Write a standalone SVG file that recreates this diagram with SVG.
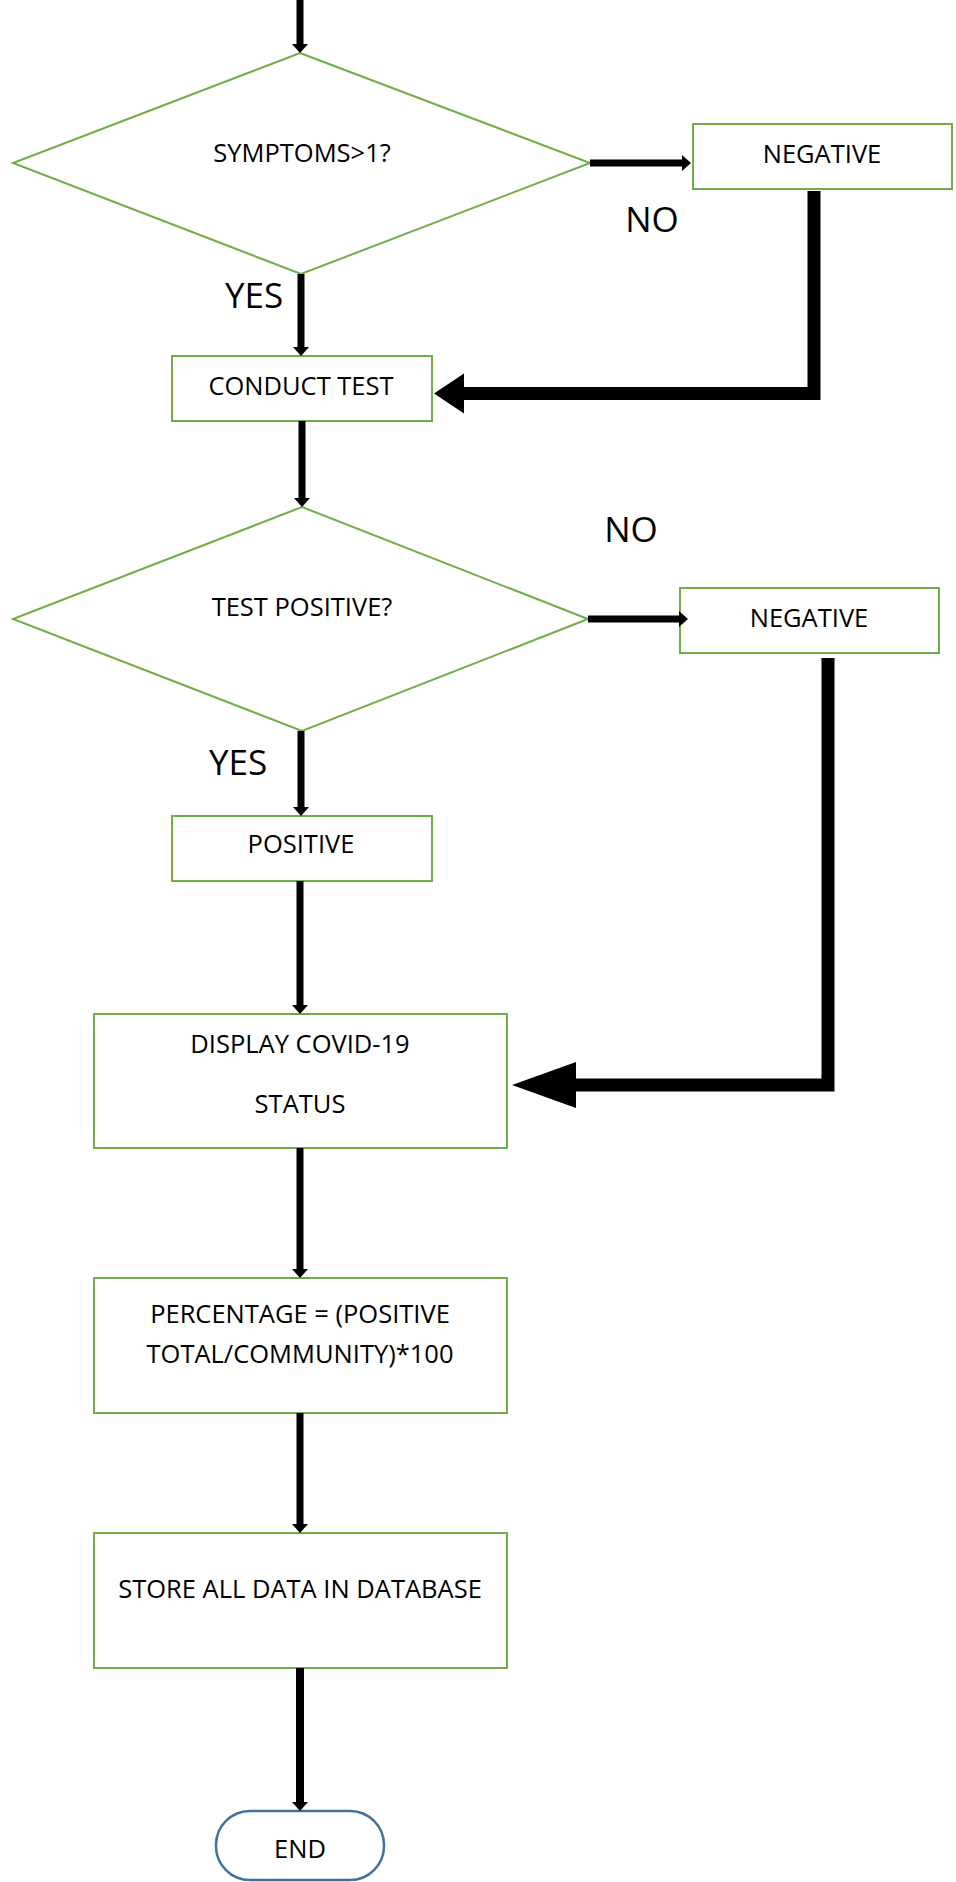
<svg xmlns="http://www.w3.org/2000/svg" width="956" height="1882" viewBox="0 0 956 1882">
<style>
.box{fill:#fff;stroke:#70AD47;stroke-width:2}
.term{fill:#fff;stroke:#41719C;stroke-width:2.5}
.t{font-family:"Open Sans","Liberation Sans",sans-serif;font-size:25.5px;fill:#000;text-anchor:middle}
.lbl{font-family:"Open Sans","Liberation Sans",sans-serif;font-size:35px;fill:#000;text-anchor:middle}
.c{fill:none;stroke:#000;stroke-width:7}
.thick{fill:none;stroke:#000;stroke-width:13;stroke-linejoin:miter}
</style>
<defs>
<marker id="ah" markerUnits="userSpaceOnUse" viewBox="0 0 9 16" markerWidth="9" markerHeight="16" refX="0" refY="8" orient="auto">
<path d="M0,0 L9,8 L0,16 Z" fill="#000"/>
</marker>
</defs>
<rect width="956" height="1882" fill="#fff"/>
<g id="d1">
<polygon class="box" points="300,53 590,163 301,274 13,163"/>
<text class="t" x="302" y="162">SYMPTOMS&gt;1?</text>
</g>
<g id="neg1">
<rect class="box" x="693" y="124" width="259" height="65"/>
<text class="t" x="822" y="163">NEGATIVE</text>
</g>
<g id="conduct">
<rect class="box" x="172" y="356" width="260" height="65"/>
<text class="t" x="301" y="395">CONDUCT TEST</text>
</g>
<g id="d2">
<polygon class="box" points="302,507 588,619 302,731 13,619"/>
<text class="t" x="302" y="616">TEST POSITIVE?</text>
</g>
<g id="neg2">
<rect class="box" x="680" y="588" width="259" height="65"/>
<text class="t" x="809" y="627">NEGATIVE</text>
</g>
<g id="positive">
<rect class="box" x="172" y="816" width="260" height="65"/>
<text class="t" x="301" y="853">POSITIVE</text>
</g>
<g id="display">
<rect class="box" x="94" y="1014" width="413" height="134"/>
<text class="t" x="300" y="1053">DISPLAY COVID-19</text>
<text class="t" x="300" y="1113">STATUS</text>
</g>
<g id="percentage">
<rect class="box" x="94" y="1278" width="413" height="135"/>
<text class="t" x="300" y="1323">PERCENTAGE = (POSITIVE</text>
<text class="t" x="300" y="1363">TOTAL/COMMUNITY)*100</text>
</g>
<g id="store">
<rect class="box" x="94" y="1533" width="413" height="135"/>
<text class="t" x="300" y="1598">STORE ALL DATA IN DATABASE</text>
</g>
<g id="end">
<rect class="term" x="216" y="1811" width="168" height="69" rx="34" ry="34"/>
<text class="t" x="300" y="1858">END</text>
</g>
<g id="connectors">
<line class="c" x1="300" y1="0" x2="300" y2="44" marker-end="url(#ah)"/>
<line class="c" x1="301" y1="274" x2="301" y2="347" marker-end="url(#ah)"/>
<line class="c" x1="302" y1="421" x2="302" y2="498" marker-end="url(#ah)"/>
<line class="c" x1="301" y1="731" x2="301" y2="807" marker-end="url(#ah)"/>
<line class="c" x1="300" y1="881" x2="300" y2="1005" marker-end="url(#ah)"/>
<line class="c" x1="300" y1="1148" x2="300" y2="1269" marker-end="url(#ah)"/>
<line class="c" x1="300" y1="1413" x2="300" y2="1524" marker-end="url(#ah)"/>
<line class="c" style="stroke-width:8" x1="300" y1="1668" x2="300" y2="1802" marker-end="url(#ah)"/>
<line class="c" x1="590" y1="163" x2="682" y2="163" marker-end="url(#ah)"/>
<line class="c" x1="588" y1="619" x2="679" y2="619" marker-end="url(#ah)"/>
<polyline class="thick" points="814,191 814,393.5 464,393.5"/>
<polygon points="434,393.5 464,373.5 464,413.5" fill="#000"/>
<polyline class="thick" points="828,658 828,1085 576,1085"/>
<polygon points="512,1085 576,1062 576,1108" fill="#000"/>
<text class="lbl" x="652" y="232">NO</text>
<text class="lbl" x="254" y="308">YES</text>
<text class="lbl" x="631" y="542">NO</text>
<text class="lbl" x="238" y="775">YES</text>
</g>
</svg>
